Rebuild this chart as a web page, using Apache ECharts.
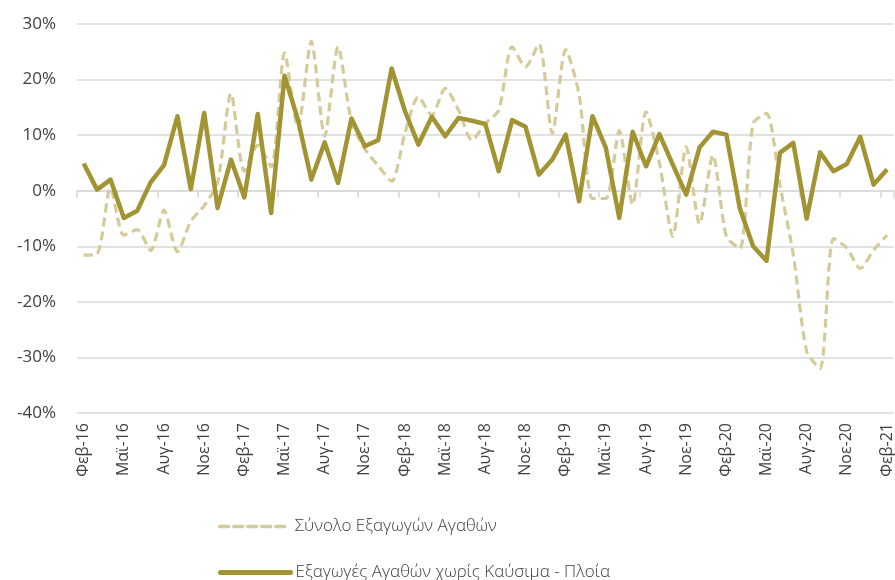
<!DOCTYPE html>
<html>
<head>
<meta charset="utf-8">
<style>
  html, body { margin: 0; padding: 0; background: #ffffff; }
  #chart { width: 895px; height: 580px; }
</style>
<script src="https://cdn.jsdelivr.net/npm/echarts@6/dist/echarts.min.js"></script>
</head>
<body>
<div id="chart"></div>
<script>
const months = ["Φεβ", "Μαρ", "Απρ", "Μαϊ", "Ιουν", "Ιουλ", "Αυγ", "Σεπ", "Οκτ", "Νοε", "Δεκ", "Ιαν"];

// Φεβ-16 .. Φεβ-21, monthly
const categories = [];
for (let i = 0; i < 61; i++) {
  const y = 16 + Math.floor((i + 1) / 12);
  categories.push(months[i % 12] + "-" + y);
}

const totalExports = [
  -11.6, -11.4, 0.5, -8.0, -7.0, -10.8, -3.5, -11.0, -5.5, -2.7, 1.5,
  17.5, 3.5, 8.2, 4.3, 24.8, 11.3, 26.9, 9.8, 25.9, 12.5, 7.5, 4.5,
  1.7, 10.4, 16.9, 13.6, 18.4, 14.5, 9.1, 12.1, 14.5, 25.9, 22.3, 26.4,
  10.3, 25.4, 17.3, -1.4, -1.4, 10.8, -2.5, 14.2, 5.0, -8.2, 7.9, -6.0,
  6.4, -8.2, -10.4, 12.1, 13.9, 1.0, -11.5, -28.9, -32.0, -8.6, -10.3, -14.0,
  -10.7, -8.0
];

const exportsExFuelShips = [
  4.9, 0.2, 2.0, -4.9, -3.6, 1.5, 4.6, 13.4, 0.3, 14.0, -3.1,
  5.6, -1.2, 13.8, -4.0, 20.7, 12.8, 2.0, 8.7, 1.4, 13.0, 8.0, 9.1,
  22.0, 14.3, 8.3, 13.3, 9.8, 13.1, 12.6, 12.0, 3.5, 12.7, 11.5, 2.9,
  5.6, 10.1, -1.9, 13.4, 7.7, -4.9, 10.6, 4.4, 10.2, 4.7, -0.7, 7.8,
  10.6, 10.1, -3.1, -10.0, -12.6, 6.8, 8.6, -5.0, 6.9, 3.5, 4.8, 9.7,
  1.1, 3.8
];

const seriesNames = ["Σύνολο Εξαγωγών Αγαθών", "Εξαγωγές Αγαθών χωρίς Καύσιμα - Πλοία"];

const textColor = "#404040";
const gridColor = "#d9d9d9";
const font = "'Open Sans', 'Noto Sans', sans-serif";

function legendFor(name, top, lineWidth) {
  return {
    data: [name],
    left: 213,
    top: top,
    itemWidth: 70,
    itemHeight: 14,
    itemGap: 0,
    itemStyle: { opacity: 0 },
    lineStyle: { width: lineWidth, cap: "round" },
    textStyle: { color: textColor, fontSize: 17, fontFamily: font, fontWeight: 300 },
    selectedMode: false
  };
}

const chart = echarts.init(document.getElementById("chart"));
chart.setOption({
  animation: false,
  grid: { left: 77, right: 0, top: 24, bottom: 167, containLabel: false },
  legend: [legendFor(seriesNames[0], 513, 3.5), legendFor(seriesNames[1], 559, 5)],
  xAxis: [
    {
      type: "category",
      data: categories,
      boundaryGap: true,
      position: "bottom",
      axisLine: { show: false, onZero: false },
      axisTick: { show: false },
      splitLine: { show: false },
      axisLabel: {
        interval: 2,
        rotate: 90,
        margin: 10,
        color: textColor,
        fontSize: 16,
        fontFamily: font
      }
    },
    {
      type: "category",
      data: categories,
      boundaryGap: true,
      position: "top",
      axisLine: { show: true, onZero: true, lineStyle: { color: gridColor, width: 1.5 } },
      axisTick: { show: true, inside: true, interval: 2, length: 7, lineStyle: { color: gridColor, width: 1.5 } },
      axisLabel: { show: false },
      splitLine: { show: false }
    }
  ],
  yAxis: {
    type: "value",
    min: -40,
    max: 30,
    interval: 10,
    axisLine: { show: false },
    axisTick: { show: false },
    axisLabel: {
      formatter: "{value}%",
      color: textColor,
      fontSize: 17,
      fontFamily: font,
      margin: 21
    },
    splitLine: { show: true, lineStyle: { color: gridColor, width: 1.5 } }
  },
  series: [
    {
      name: seriesNames[0],
      type: "line",
      xAxisIndex: 0,
      data: totalExports,
      symbol: "none",
      smooth: 0.25,
      lineStyle: { color: "#d3cb9b", width: 3.2, type: [9, 5] },
      itemStyle: { color: "#d3cb9b" },
      z: 2
    },
    {
      name: seriesNames[1],
      type: "line",
      xAxisIndex: 0,
      data: exportsExFuelShips,
      symbol: "none",
      lineStyle: { color: "#a39433", width: 4.5, join: "round" },
      itemStyle: { color: "#a39433" },
      z: 3
    }
  ]
});
</script>
</body>
</html>
